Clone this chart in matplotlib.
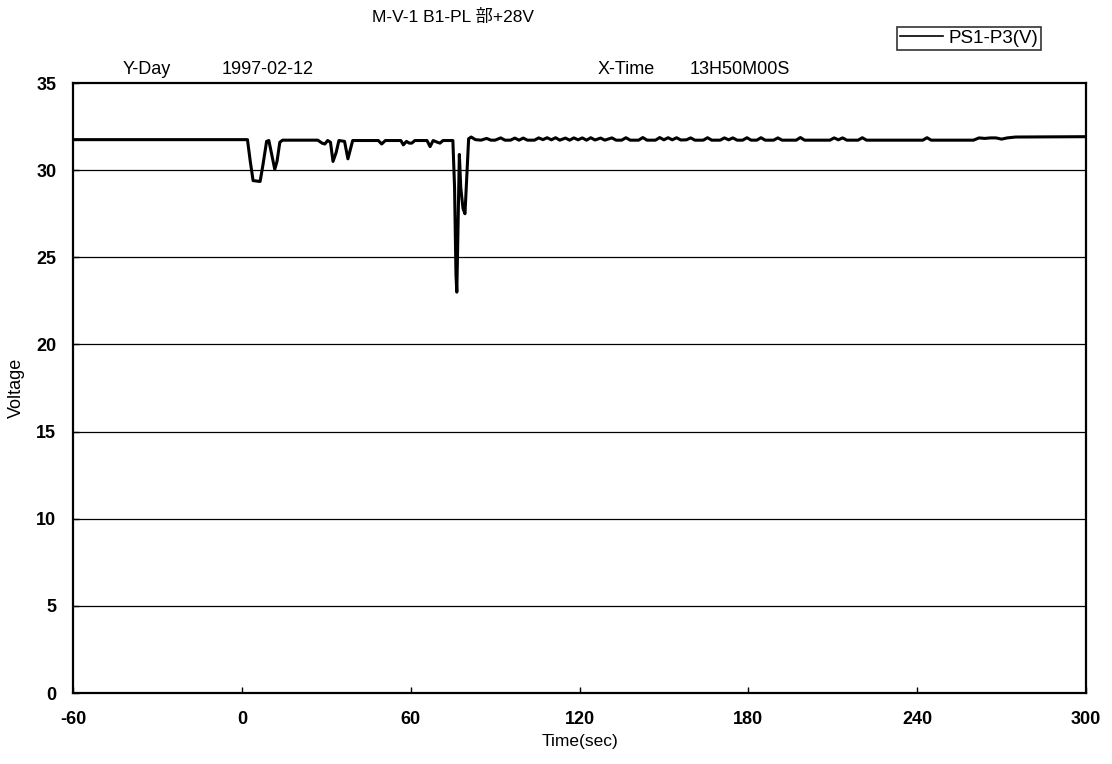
import matplotlib
matplotlib.use("Agg")
import matplotlib.pyplot as plt
from matplotlib.lines import Line2D

plt.rcParams['font.family'] = ['Liberation Sans', 'Noto Sans CJK JP', 'DejaVu Sans']
plt.rcParams['axes.unicode_minus'] = False

title = "M-V-1 B1-PL 部+28V"
series_name = "PS1-P3(V)"
xticks = [-60, 0, 60, 120, 180, 240, 300]
yticks = [0, 5, 10, 15, 20, 25, 30, 35]

time_s = [-60, 2.0, 3.0, 4.0, 6.5, 7.5, 8.8, 9.6, 10.5, 11.7, 12.5, 13.5, 14.5,
          27, 28.5, 29.5, 30.5, 31.5, 32.4, 33.5, 34.5, 36.5, 37.7, 38.6, 39.4,
          48.5, 49.7, 51, 56.5, 57.4, 58.5, 59.5, 60.4, 61.5, 65.8, 66.9, 68,
          69.5, 70.4, 71.5, 75.0, 75.6, 76.1, 76.4, 76.8, 77.3, 77.8, 78.6, 79.3,
          79.9, 80.6, 81.5, 83,
          85, 87, 88.5, 90, 92, 93.5, 95.5, 97, 98.5, 100, 101.5, 104, 105.5, 107,
          108.5, 110, 111.5, 113, 115, 116.5, 118, 119.5, 121, 122.5, 124, 125.5,
          127.5, 129, 131.5, 133, 135, 136.5, 138, 141, 142.5, 144, 147, 148.5,
          150, 151.5, 153, 154.5, 156, 158, 159.5, 161, 164, 165.5, 167, 170,
          171.5, 173, 174.5, 176, 178, 179.5, 181, 183, 184.5, 186, 189, 190.5,
          192, 197, 198.5, 200, 209, 210.5, 212, 213.5, 215, 219, 220.5, 222,
          242, 243.5, 245, 260, 262, 264, 266, 268, 270, 272, 275, 300]
voltage = [31.75, 31.75, 30.5, 29.4, 29.35, 30.3, 31.65, 31.7, 31.0, 30.05, 30.5, 31.6, 31.72,
           31.72, 31.55, 31.5, 31.7, 31.6, 30.5, 31.0, 31.7, 31.65, 30.65, 31.2, 31.7,
           31.7, 31.5, 31.7, 31.7, 31.45, 31.65, 31.55, 31.55, 31.7, 31.7, 31.35, 31.7,
           31.6, 31.55, 31.7, 31.7, 29.0, 24.0, 23.0, 26.5, 30.9, 29.0, 27.8, 27.5,
           29.5, 31.8, 31.9, 31.75,
           31.72, 31.82, 31.72, 31.72, 31.85, 31.72, 31.72, 31.84, 31.72, 31.84, 31.72, 31.72, 31.85, 31.75,
           31.86, 31.74, 31.86, 31.72, 31.84, 31.72, 31.85, 31.74, 31.85, 31.72, 31.86, 31.73,
           31.84, 31.72, 31.85, 31.72, 31.72, 31.86, 31.72, 31.72, 31.87, 31.72, 31.72, 31.87,
           31.74, 31.86, 31.74, 31.86, 31.73, 31.74, 31.85, 31.72, 31.72, 31.86, 31.72, 31.72,
           31.85, 31.74, 31.85, 31.72, 31.72, 31.86, 31.72, 31.72, 31.86, 31.72, 31.72, 31.85,
           31.72, 31.72, 31.87, 31.72, 31.72, 31.85, 31.74, 31.85, 31.72, 31.72, 31.86, 31.72,
           31.72, 31.86, 31.72, 31.72, 31.85, 31.82, 31.85, 31.85, 31.78, 31.85, 31.9, 31.92]

W, H = 1112, 764
fig = plt.figure(figsize=(W / 100, H / 100), dpi=100)
ax = fig.add_axes([73 / W, 1 - 693 / H, (1086 - 73) / W, (693 - 83) / H])

for y in yticks[1:-1]:
    ax.axhline(y, color='black', linewidth=0.9, zorder=1)

ax.plot(time_s, voltage, color='black', linewidth=2.2, zorder=3, label=series_name)

ax.set_xlim(-60, 300)
ax.set_ylim(0, 35)
ax.set_xticks(xticks)
ax.set_yticks(yticks)
ax.tick_params(direction='in', length=4, width=1, labelsize=13)
ax.tick_params(axis='x', pad=13)
ax.tick_params(axis='y', pad=12)
for lab in ax.get_xticklabels() + ax.get_yticklabels():
    lab.set_fontweight('bold')
for s in ax.spines.values():
    s.set_linewidth(1.6)

ax.set_xlabel("Time(sec)", fontsize=12.5, labelpad=4)
ax.set_ylabel("Voltage", fontsize=13, labelpad=8)

fig.text(372 / W, 1 - 17 / H, title, fontsize=12.5, ha='left', va='center')
fig.text(123 / W, 1 - 70 / H, "Y-Day", fontsize=13, ha='left', va='center')
fig.text(222 / W, 1 - 70 / H, "1997-02-12", fontsize=13, ha='left', va='center')
fig.text(598 / W, 1 - 70 / H, "X-Time", fontsize=13, ha='left', va='center')
fig.text(690 / W, 1 - 70 / H, "13H50M00S", fontsize=13, ha='left', va='center')

handle = Line2D([], [], color='black', linewidth=1.2)
leg = fig.legend([handle], [series_name], loc='upper left',
                 bbox_to_anchor=(897 / W, 1 - 27 / H), frameon=True,
                 fancybox=False, edgecolor='black', fontsize=13.5, handlelength=2.3,
                 handletextpad=0.3, borderpad=0.15, borderaxespad=0)
leg.get_frame().set_linewidth(1.2)

fig.savefig("out.png", dpi=100)
